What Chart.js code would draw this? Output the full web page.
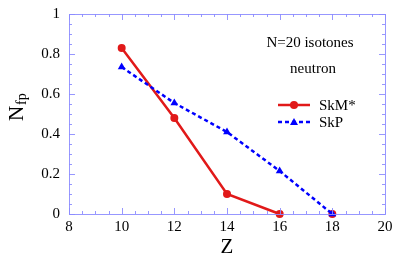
<!DOCTYPE html>
<html>
<head>
<meta charset="utf-8">
<script src="https://cdn.jsdelivr.net/npm/chart.js@4/dist/chart.umd.min.js"></script>
<style>
html, body { margin: 0; padding: 0; background: #fff; }
#wrap { width: 416px; height: 260px; }
</style>
</head>
<body>
<div id="wrap"><canvas id="nfpChart" width="416" height="260"></canvas></div>
<script>
// data
const zValues = [10, 12, 14, 16, 18];
const skmValues = [0.83, 0.48, 0.10, 0.0, 0.0];
const skpValues = [0.735, 0.555, 0.41, 0.215, 0.0];
const xTicks = [8, 10, 12, 14, 16, 18, 20];
const yTicks = [0, 0.2, 0.4, 0.6, 0.8, 1];

const axisColor = 'rgba(140,140,255,0.9)';
const red = 'rgb(225,25,25)';
const serif = "'Liberation Serif', 'DejaVu Serif', serif";

// frame, inward ticks, labels and legend
const decorations = {
    id: 'decorations',
    afterDatasetsDraw(chart) {
        const ctx = chart.ctx;
        const a = chart.chartArea;
        const xs = chart.scales.x, ys = chart.scales.y;
        ctx.save();
        ctx.strokeStyle = axisColor;
        ctx.lineWidth = 1;
        ctx.strokeRect(a.left + 0.5, a.top + 0.5, a.right - a.left, a.bottom - a.top);
        ctx.beginPath();
        for (let v = 8; v <= 20.001; v += 0.5) {
            const px = Math.round(xs.getPixelForValue(v)) + 0.5;
            const len = Math.abs(v % 2) < 0.01 ? 6 : 3;
            ctx.moveTo(px, a.bottom); ctx.lineTo(px, a.bottom - len);
            ctx.moveTo(px, a.top); ctx.lineTo(px, a.top + len);
        }
        for (let i = 0; i <= 20; i++) {
            const v = i * 0.05;
            const py = Math.round(ys.getPixelForValue(v)) + 0.5;
            const len = i % 4 === 0 ? 6 : 3;
            ctx.moveTo(a.left, py); ctx.lineTo(a.left + len, py);
            ctx.moveTo(a.right, py); ctx.lineTo(a.right - len, py);
        }
        ctx.stroke();

        ctx.fillStyle = '#000';
        ctx.textBaseline = 'middle';
        ctx.textAlign = 'center';
        ctx.font = '15px ' + serif;
        ctx.fillText('N=20 isotones', 310, 43);
        ctx.fillText('neutron', 313, 69);

        // legend
        ctx.textAlign = 'left';
        ctx.strokeStyle = red;
        ctx.lineWidth = 2.5;
        ctx.setLineDash([]);
        ctx.beginPath(); ctx.moveTo(278, 105); ctx.lineTo(310, 105); ctx.stroke();
        ctx.fillStyle = red;
        ctx.beginPath(); ctx.arc(294, 105, 4, 0, Math.PI * 2); ctx.fill();
        ctx.fillStyle = '#000';
        ctx.fillText('SkM*', 319, 106);

        ctx.strokeStyle = '#0000ff';
        ctx.setLineDash([4, 3]);
        ctx.beginPath(); ctx.moveTo(278, 122); ctx.lineTo(310, 122); ctx.stroke();
        ctx.setLineDash([]);
        ctx.fillStyle = '#0000ff';
        ctx.beginPath(); ctx.moveTo(294, 118); ctx.lineTo(298, 125); ctx.lineTo(290, 125); ctx.closePath(); ctx.fill();
        ctx.fillStyle = '#000';
        ctx.fillText('SkP', 319, 123);

        // axis titles
        ctx.textAlign = 'center';
        ctx.font = '21px ' + serif;
        ctx.fillText('Z', (a.left + a.right) / 2, 247);

        ctx.translate(17, 113);
        ctx.rotate(-Math.PI / 2);
        ctx.textAlign = 'left';
        ctx.font = '21px ' + serif;
        ctx.fillText('N', -8, 0);
        ctx.font = '14px ' + serif;
        ctx.fillText('fp', 8, 5);
        ctx.restore();
    }
};

const ctx = document.getElementById('nfpChart').getContext('2d');
new Chart(ctx, {
    type: 'line',
    data: {
        datasets: [{
            label: 'SkP',
            data: zValues.map((z, i) => ({ x: z, y: skpValues[i] })),
            borderColor: '#0000ff',
            backgroundColor: '#0000ff',
            borderWidth: 2.5,
            borderDash: [4, 3],
            pointStyle: 'triangle',
            pointRadius: 4.5,
            pointBorderWidth: 0,
            fill: false,
            tension: 0
        }, {
            label: 'SkM*',
            data: zValues.map((z, i) => ({ x: z, y: skmValues[i] })),
            borderColor: red,
            backgroundColor: red,
            borderWidth: 2.5,
            pointStyle: 'circle',
            pointRadius: 4,
            pointBorderWidth: 0,
            fill: false,
            tension: 0,
            // no line drawn along the axis from 16 to 18
            segment: { borderColor: c => c.p0.parsed.x >= 16 ? 'rgba(0,0,0,0)' : undefined }
        }]
    },
    options: {
        responsive: false,
        animation: false,
        clip: false,
        layout: { padding: { top: 14, right: 31, left: 0, bottom: 0 } },
        plugins: { legend: { display: false }, tooltip: { enabled: false } },
        scales: {
            x: {
                type: 'linear',
                min: 8,
                max: 20,
                afterBuildTicks: s => { s.ticks = xTicks.map(v => ({ value: v })); },
                afterFit: s => { s.height = 46; s.paddingLeft = 0; s.paddingRight = 0; },
                grid: { display: false, drawTicks: false },
                border: { display: false },
                ticks: { color: '#000', font: { family: serif, size: 15 }, padding: 4, maxRotation: 0 }
            },
            y: {
                type: 'linear',
                min: 0,
                max: 1,
                afterBuildTicks: s => { s.ticks = yTicks.map(v => ({ value: v })); },
                afterFit: s => { s.width = 69; s.paddingTop = 0; s.paddingBottom = 0; },
                grid: { display: false, drawTicks: false },
                border: { display: false },
                ticks: { color: '#000', font: { family: serif, size: 15 }, padding: 9, callback: v => String(v) }
            }
        }
    },
    plugins: [decorations]
});
</script>
</body>
</html>
